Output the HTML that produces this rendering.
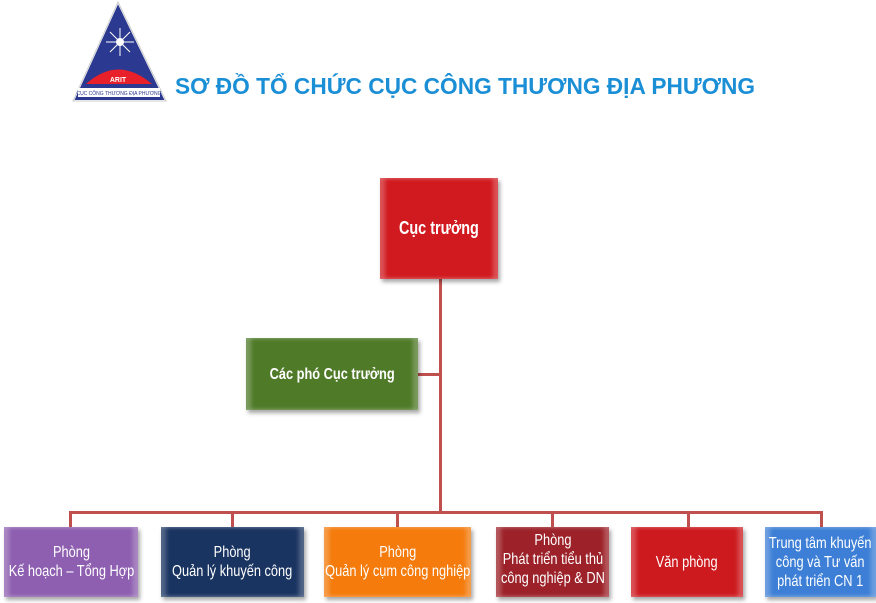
<!DOCTYPE html>
<html><head><meta charset="utf-8"><style>
body{margin:0;width:876px;height:603px;background:#fff;position:relative;overflow:hidden;font-family:"Liberation Sans",Arial,sans-serif}
.b{position:absolute;display:flex;align-items:center;justify-content:center;text-align:center;color:#fff;font-size:16px;line-height:19px;box-sizing:border-box;box-shadow:2px 3px 4px rgba(0,0,0,.35), inset 5px 0 4px rgba(255,255,255,.25), inset -5px 0 4px rgba(255,255,255,.25);white-space:nowrap}
.b span{display:inline-block;transform:scaleX(.8)}
.l{position:absolute;background:#c0504d}
</style></head><body>
<svg style="position:absolute;left:70px;top:0" width="100" height="104">
<polygon points="48,2 96,101 3,101" fill="#2b3990" stroke="#fff" stroke-width="2"/>
<polygon points="48,2 96,101 3,101" fill="none" stroke="#ccc" stroke-width="1"/>
<path d="M16,84 Q48,55 82,84 Z" fill="#e8202a"/>
<text x="48" y="82" font-size="7" fill="#fff" text-anchor="middle" font-weight="bold" font-family="Liberation Sans">ARIT</text>
<rect x="8" y="88" width="82" height="9" fill="#fff"/>
<text x="49" y="95" font-size="5" fill="#2b3990" text-anchor="middle" font-family="Liberation Sans">CỤC CÔNG THƯƠNG ĐỊA PHƯƠNG</text>
<circle cx="50" cy="42" r="4" fill="#fff"/>
<path d="M50,28 L50,56 M36,42 L64,42 M40,32 L60,52 M60,32 L40,52" stroke="#fff" stroke-width="1"/>
</svg>
<div style="position:absolute;left:175px;top:73px;font-size:22.7px;font-weight:bold;color:#1b8fd6;white-space:nowrap">SƠ ĐỒ TỔ CHỨC CỤC CÔNG THƯƠNG ĐỊA PHƯƠNG</div>
<div class="l" style="left:439px;top:279px;width:3px;height:235px"></div>
<div class="l" style="left:418px;top:373px;width:22px;height:3px"></div>
<div class="l" style="left:69px;top:511px;width:754px;height:3px"></div>
<div class="l" style="left:69px;top:511px;width:3px;height:17px"></div>
<div class="l" style="left:231px;top:511px;width:3px;height:17px"></div>
<div class="l" style="left:396px;top:511px;width:3px;height:17px"></div>
<div class="l" style="left:551px;top:511px;width:3px;height:17px"></div>
<div class="l" style="left:687px;top:511px;width:3px;height:17px"></div>
<div class="l" style="left:820px;top:511px;width:3px;height:17px"></div>
<div class="b" style="left:380px;top:178px;width:118px;height:101px;background:#d01a1f;font-weight:bold;font-size:18px"><span>Cục trưởng</span></div>
<div class="b" style="left:246px;top:338px;width:172px;height:72px;background:#4f7a28;font-weight:bold;font-size:16px"><span>Các phó Cục trưởng</span></div>
<div class="b" style="left:4px;top:527px;width:134px;height:70px;background:#8e5fb0"><span>Phòng<br>Kế hoạch – Tổng Hợp</span></div>
<div class="b" style="left:161px;top:527px;width:143px;height:70px;background:#1a3461"><span>Phòng<br>Quản lý khuyến công</span></div>
<div class="b" style="left:324px;top:527px;width:147px;height:70px;background:#f47b0c"><span>Phòng<br>Quản lý cụm công nghiệp</span></div>
<div class="b" style="left:496px;top:527px;width:113px;height:70px;background:#9c2128;align-items:flex-start;padding-top:4px"><span>Phòng<br>Phát triển tiểu thủ<br>công nghiệp &amp; DN</span></div>
<div class="b" style="left:631px;top:527px;width:112px;height:70px;background:#cc1a1f"><span>Văn phòng</span></div>
<div class="b" style="left:765px;top:527px;width:111px;height:70px;background:#3d7fd6"><span>Trung tâm khuyến<br>công và Tư vấn<br>phát triển CN 1</span></div>
</body></html>
